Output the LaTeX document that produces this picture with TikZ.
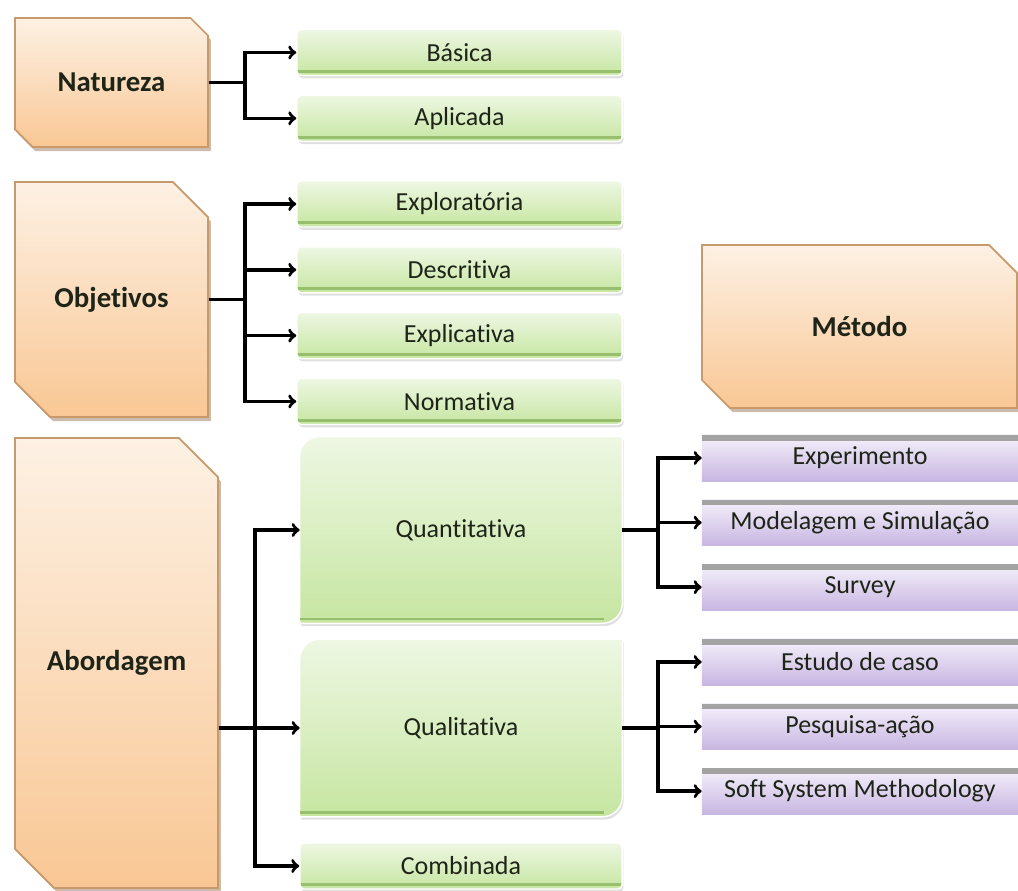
\documentclass[tikz,border=0pt]{standalone}
\usepackage{fontspec}
\setmainfont{Carlito}[Ligatures=NoCommon]
\usetikzlibrary{positioning}
\usetikzlibrary{shapes.misc}
\usetikzlibrary{shadows}
\usetikzlibrary{backgrounds}

\definecolor{orangetop}{HTML}{FDF1E4}
\definecolor{orangebot}{HTML}{F9C794}
\definecolor{orangeline}{HTML}{C8996B}
\definecolor{greentop}{HTML}{EEF7E3}
\definecolor{greenbot}{HTML}{C6E6A1}
\definecolor{greenline}{HTML}{98BF6E}
\definecolor{lilactop}{HTML}{F5F1FB}
\definecolor{lilacbot}{HTML}{C8B6E2}
\definecolor{lilacline}{HTML}{A3A3A3}
\definecolor{inkcolor}{HTML}{1E2418}

\begin{document}
\begin{tikzpicture}[x=0.025cm, y=-0.025cm,
	every node/.style={font=\fontsize{18.5}{22}\selectfont, text=inkcolor},
	topic/.style={chamfered rectangle, chamfered rectangle corners={north east, south west}, draw=orangeline, line width=1.2pt, top color=orangetop, bottom color=orangebot, font=\fontsize{20.5}{24}\selectfont\bfseries, drop shadow={shadow xshift=2pt, shadow yshift=-3pt, fill=orangeline!70!black, opacity=0.45}},
	option/.style={rectangle, rounded corners=3pt, draw=white, line width=1pt, top color=greentop, bottom color=greenbot, minimum width=8.125cm, minimum height=1.15cm, drop shadow={shadow xshift=1pt, shadow yshift=-2pt, fill=black!30, opacity=0.4}, path picture={\draw[greenline, line width=2pt] ([yshift=3pt]path picture bounding box.south west) -- ([yshift=3pt]path picture bounding box.south east);}},
	bigoption/.style={rectangle, minimum width=8.05cm},
	bigfill/.style={top color=greentop, bottom color=greenbot, draw=white, line width=1pt, drop shadow={shadow xshift=1pt, shadow yshift=-2pt, fill=black!30, opacity=0.4}},
	method/.style={rectangle, top color=lilactop, bottom color=lilacbot, minimum width=7.9cm, minimum height=1.15cm, path picture={\fill[lilacline] (path picture bounding box.north west) rectangle ([yshift=-4pt]path picture bounding box.north east);}},
	link/.style={->, line width=2.4pt}]
	\useasboundingbox (0,0) rectangle (1018,891);

	\node[topic, minimum width=4.825cm, minimum height=3.225cm, chamfered rectangle xsep=0.22cm, chamfered rectangle ysep=0.22cm] (natureza) at (111.5,82.5) {Natureza};
	\node[topic, minimum width=4.825cm, minimum height=5.875cm, chamfered rectangle xsep=0.45cm, chamfered rectangle ysep=0.45cm] (objetivos) at (111.5,299.5) {Objetivos};
	\node[topic, minimum width=5.075cm, minimum height=11.25cm, chamfered rectangle xsep=0.55cm, chamfered rectangle ysep=0.55cm] (abordagem) at (116.5,663) {Abordagem};
	\node[topic, minimum width=7.875cm, minimum height=4.075cm, chamfered rectangle xsep=0.35cm, chamfered rectangle ysep=0.35cm] (metodo) at (859.5,326.5) {Método};

	\node[option] (basica) at (459.5,52.5) {Básica};
	\node[option, below=0.46cm of basica] (aplicada) {Aplicada};

	\node[option] (exploratoria) at (459.5,204) {Exploratória};
	\node[option, below=0.46cm of exploratoria] (descritiva) {Descritiva};
	\node[option, below=0.46cm of descritiva] (explicativa) {Explicativa};
	\node[option, below=0.46cm of explicativa] (normativa) {Normativa};

	\node[bigoption, minimum height=4.65cm] (quantitativa) at (461,530) {Quantitativa};
	\node[bigoption, minimum height=4.425cm] (qualitativa) at (461,728) {Qualitativa};
	\node[option, minimum width=8.05cm] (combinada) at (461,866) {Combinada};
	\begin{scope}[on background layer]
		\foreach \n in {quantitativa, qualitativa}{
			\path[bigfill] (\n.south west) -- ([yshift=-0.5cm]\n.north west) arc[start angle=180, end angle=90, radius=0.5cm] -- (\n.north east) -- ([yshift=0.5cm]\n.south east) arc[start angle=0, end angle=-90, radius=0.5cm] -- cycle;
			\draw[greenline, line width=2pt] ([yshift=3pt]\n.south west) -- ([xshift=-0.45cm, yshift=3pt]\n.south east);
		}
	\end{scope}

	\node[method] (experimento) at (860,458) {Experimento};
	\node[method, below=0.45cm of experimento] (modelagem) {Modelagem e Simulação};
	\node[method, below=0.45cm of modelagem] (survey) {Survey};
	\node[method] (estudo) at (860,662) {Estudo de caso};
	\node[method, below=0.45cm of estudo] (pesquisa) {Pesquisa-ação};
	\node[method, below=0.45cm of pesquisa] (ssm) {Soft System Methodology};

	\coordinate (natfork) at (245,0);
	\coordinate (objfork) at (245,0);
	\coordinate (abofork) at (255,0);
	\coordinate (metfork) at (658,0);

	\foreach \c in {basica, aplicada}
		\draw[link] (natureza.east) -- (natfork |- natureza.east) |- (\c.west);
	\foreach \c in {exploratoria, descritiva, explicativa, normativa}
		\draw[link] (objetivos.east) -- (objfork |- objetivos.east) |- (\c.west);
	\draw[link] (abordagem.east |- qualitativa.west) -- (qualitativa.west);
	\foreach \c in {quantitativa, combinada}
		\draw[link] (abofork |- qualitativa.west) |- (\c.west);
	\foreach \c in {experimento, modelagem, survey}
		\draw[link] (quantitativa.east) -- (metfork |- quantitativa.east) |- (\c.west);
	\foreach \c in {estudo, pesquisa, ssm}
		\draw[link] (qualitativa.east) -- (metfork |- qualitativa.east) |- (\c.west);
\end{tikzpicture}
\end{document}
